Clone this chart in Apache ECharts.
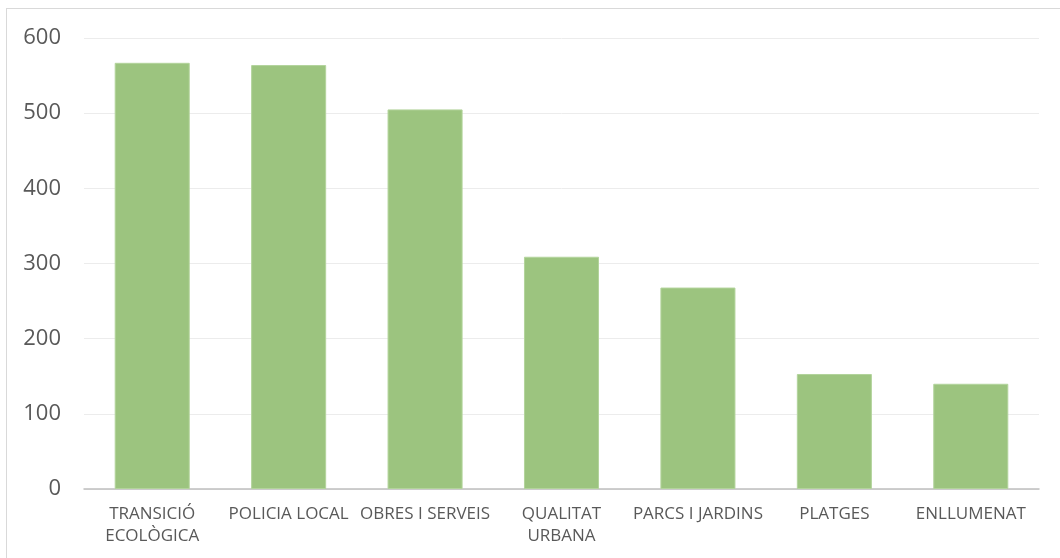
<!DOCTYPE html>
<html>
<head>
<meta charset="utf-8">
<script src="https://cdn.jsdelivr.net/npm/echarts@6/dist/echarts.min.js"></script>
<style>
html,body{margin:0;padding:0;background:#fff;}
#frame{position:absolute;left:6px;top:8px;width:1060px;height:558px;border-left:1px solid #d9d9d9;border-top:1px solid #d9d9d9;}
#chart{position:absolute;left:0;top:0;width:1060px;height:558px;}
</style>
</head>
<body>
<div id="frame"></div>
<div id="chart"></div>
<script>
var categories = ["TRANSICIÓ\nECOLÒGICA", "POLICIA LOCAL", "OBRES I SERVEIS", "QUALITAT\nURBANA", "PARCS I JARDINS", "PLATGES", "ENLLUMENAT"];
var values = [567, 564, 505, 309, 268, 153, 140];
var yMin = 0, yMax = 600, yStep = 100;

var chart = echarts.init(document.getElementById('chart'));
chart.setOption({
  animation: false,
  grid: {left: 84, right: 21, top: 38, bottom: 69, containLabel: false},
  xAxis: {
    type: 'category',
    data: categories,
    axisTick: {show: false},
    axisLine: {lineStyle: {color: '#bfbfbf', width: 1.5}},
    axisLabel: {color: '#595959', fontFamily: 'Open Sans', fontSize: 17, margin: 14, lineHeight: 22, interval: 0}
  },
  yAxis: {
    type: 'value',
    min: yMin, max: yMax, interval: yStep,
    axisLine: {show: false},
    axisTick: {show: false},
    splitLine: {lineStyle: {color: '#ececec', width: 1}},
    axisLabel: {color: '#595959', fontFamily: 'Open Sans', fontSize: 22, margin: 23}
  },
  series: [{
    type: 'bar',
    data: values,
    barWidth: '55%',
    itemStyle: {color: '#9cc47f', borderColor: '#b3d49c', borderWidth: 1}
  }]
});
</script>
</body>
</html>
